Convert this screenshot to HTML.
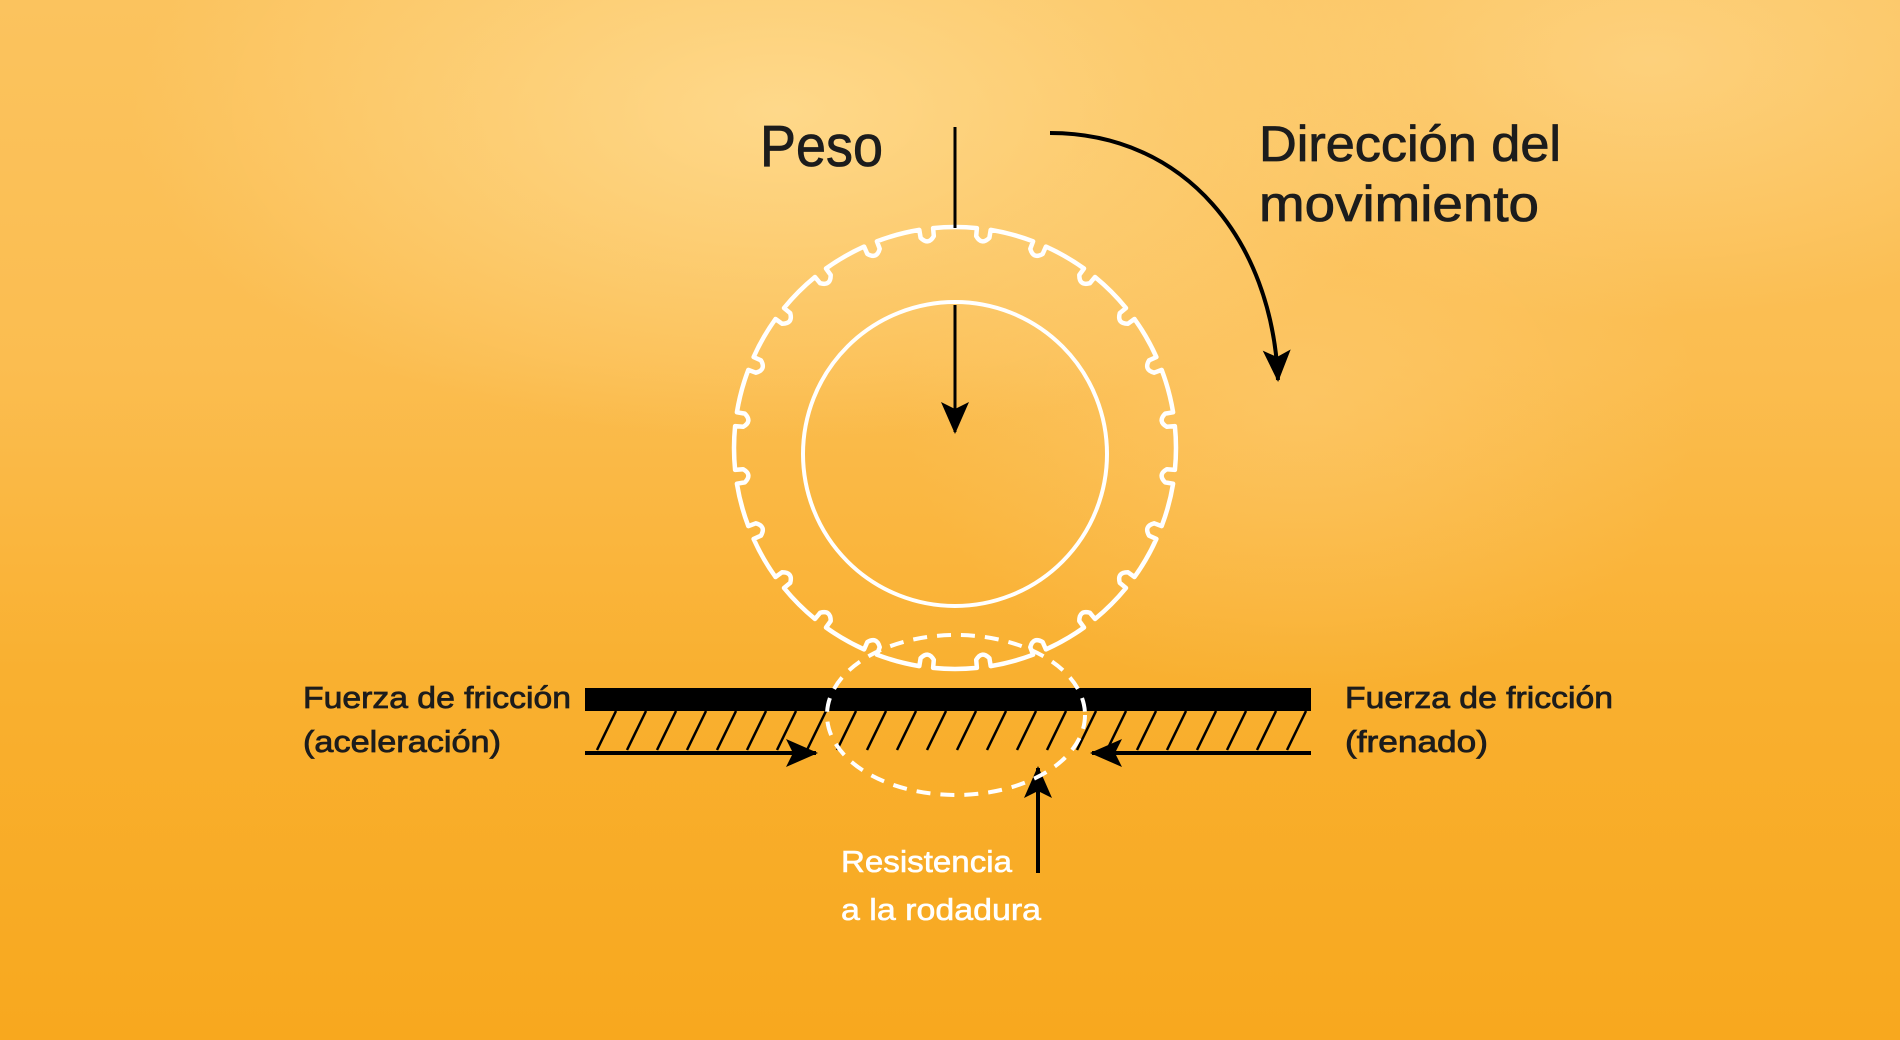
<!DOCTYPE html>
<html><head><meta charset="utf-8"><style>
html,body{margin:0;padding:0;width:1900px;height:1040px;overflow:hidden}
body{background:
radial-gradient(ellipse 650px 330px at 780px 110px, rgba(255,222,150,0.8), rgba(255,222,150,0) 100%),
radial-gradient(ellipse 500px 260px at 1650px 60px, rgba(255,220,150,0.55), rgba(255,220,150,0) 100%),
radial-gradient(ellipse 400px 300px at 1300px 400px, rgba(255,215,140,0.35), rgba(255,215,140,0) 100%),
linear-gradient(180deg,#fbc35e 0%,#fbbd50 35%,#f9b030 65%,#f8a81e 100%);}
svg{position:absolute;left:0;top:0}
text{font-family:"Liberation Sans",sans-serif}
</style></head><body>
<svg width="1900" height="1040" viewBox="0 0 1900 1040">
<defs>
<marker id="ah" viewBox="0 0 32 32" refX="30" refY="16" markerWidth="32" markerHeight="32" markerUnits="userSpaceOnUse" orient="auto">
<path d="M0,2 L32,16 L0,30 L7,16 Z" fill="#000"/></marker>
</defs>
<path id="tire" fill="none" stroke="#fff" stroke-width="4.5" stroke-linejoin="round"/>
<circle cx="955" cy="454" r="152" fill="none" stroke="#fff" stroke-width="4"/>
<line x1="955" y1="127" x2="955" y2="228" stroke="#000" stroke-width="3"/>
<line x1="955" y1="305" x2="955" y2="432" stroke="#000" stroke-width="3" marker-end="url(#ah)"/>
<path d="M1050 133 C1185 133 1272 240 1278 380" fill="none" stroke="#000" stroke-width="4" marker-end="url(#ah)"/>
<rect x="585" y="688" width="726" height="23" fill="#000"/>
<g id="hatch" stroke="#000" stroke-width="2.5"></g>
<line x1="585" y1="753" x2="816" y2="753" stroke="#000" stroke-width="4" marker-end="url(#ah)"/>
<line x1="1311" y1="753" x2="1092" y2="753" stroke="#000" stroke-width="4" marker-end="url(#ah)"/>
<line x1="1038" y1="873" x2="1038" y2="768" stroke="#000" stroke-width="4" marker-end="url(#ah)"/>
<ellipse cx="956" cy="715" rx="129" ry="80" fill="none" stroke="#fff" stroke-width="4" stroke-dasharray="14 10"/>
<g fill="#1c1c1c" stroke="#1c1c1c" stroke-width="0.8">
<text x="760" y="166" font-size="58" textLength="123" lengthAdjust="spacingAndGlyphs">Peso</text>
<text x="1259" y="161" font-size="50" textLength="302" lengthAdjust="spacingAndGlyphs">Dirección del</text>
<text x="1259" y="221" font-size="50" textLength="280" lengthAdjust="spacingAndGlyphs">movimiento</text>
<text x="303" y="708" font-size="31" textLength="268" lengthAdjust="spacingAndGlyphs">Fuerza de fricción</text>
<text x="303" y="752" font-size="31" textLength="198" lengthAdjust="spacingAndGlyphs">(aceleración)</text>
<text x="1345" y="708" font-size="31" textLength="268" lengthAdjust="spacingAndGlyphs">Fuerza de fricción</text>
<text x="1345" y="752" font-size="31" textLength="143" lengthAdjust="spacingAndGlyphs">(frenado)</text>
</g>
<g fill="#fff" stroke="#fff" stroke-width="0.6">
<text x="841" y="872" font-size="31" textLength="171" lengthAdjust="spacingAndGlyphs">Resistencia</text>
<text x="841" y="920" font-size="31" textLength="200" lengthAdjust="spacingAndGlyphs">a la rodadura</text>
</g>
</svg>
<script>
(function(){
var cx=955,cy=448,R=221,r2=210,N=24,step=360/N,gap=3.6,d="";
function p(rad,deg){var a=deg*Math.PI/180;return (cx+rad*Math.cos(a)).toFixed(1)+","+(cy+rad*Math.sin(a)).toFixed(1);}
for(var i=0;i<N;i++){
 var a0=-90-step/2+gap/2+i*step, a1=a0+step-gap;
 d+=(i==0?"M":"L")+p(R,a0)+" A"+R+","+R+" 0 0 1 "+p(R,a1);
 d+=" L"+p(r2+3,a1)+" Q"+p(r2-6,a1+gap/2)+" "+p(r2+3,a1+gap)+" ";
}
d+="Z";
document.getElementById("tire").setAttribute("d",d);
var g=document.getElementById("hatch"),s="";
for(var x=597;x<=1290;x+=30){s+='<line x1="'+x+'" y1="750" x2="'+(x+19)+'" y2="711"/>';}
g.innerHTML=s;
})();
</script>
</body></html>
